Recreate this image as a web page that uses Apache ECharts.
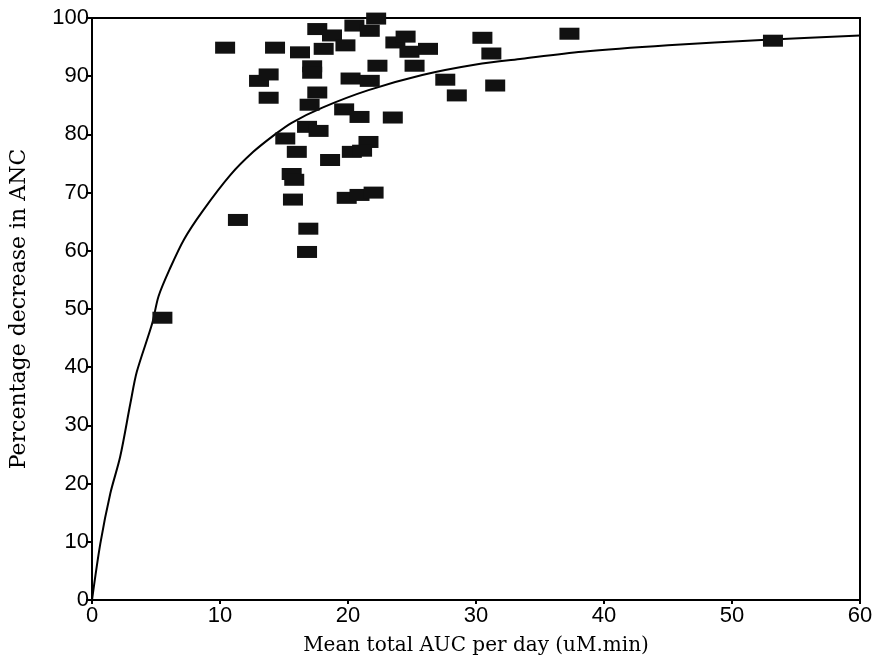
<!DOCTYPE html>
<html>
<head>
<meta charset="utf-8">
<script src="https://cdn.jsdelivr.net/npm/echarts@6/dist/echarts.min.js"></script>
<style>
html,body{margin:0;padding:0;background:#fff;}
#chart{width:877px;height:665px;}
</style>
</head>
<body>
<div id="chart"></div>
<script>
// Observed points: mean total AUC per day (uM.min) and percentage decrease in ANC
const auc = [5.5, 11.4, 10.4, 14.3, 16.25, 17.6, 18.1, 18.75, 19.8, 20.5, 21.7, 22.2,
  23.7, 24.5, 24.8, 25.2, 26.25, 17.2, 17.2, 22.3, 13.05, 13.8, 13.8, 20.2, 21.7,
  17.6, 17.0, 19.7, 20.9, 23.5, 16.8, 17.7, 15.1, 21.6, 20.3, 21.1, 16.0, 18.6,
  15.6, 15.8, 15.7, 19.9, 20.9, 22.0, 16.9, 16.8, 30.5, 31.2, 27.6, 31.5, 28.5,
  37.3, 53.2];
const ancDecrease = [48.5, 65.3, 94.9, 94.9, 94.1, 98.1, 94.7, 97.0, 95.3, 98.7, 97.8, 99.9,
  95.8, 96.8, 94.2, 91.8, 94.7, 91.7, 90.6, 91.8, 89.2, 90.3, 86.3, 89.6, 89.2,
  87.2, 85.1, 84.3, 83.0, 82.9, 81.3, 80.6, 79.3, 78.7, 77.0, 77.2, 77.0, 75.6,
  73.2, 72.2, 68.8, 69.1, 69.6, 70.0, 63.8, 59.8, 96.6, 93.9, 89.4, 88.4, 86.7,
  97.3, 96.1];
// Fitted curve
const curveX = [0, 0.65, 1.43, 2.2, 3.0, 3.5, 4.7, 5.2, 6.1, 7.2, 8.6, 10.8, 12.6, 14.3,
  15.6, 18, 21.6, 25.8, 30, 33.6, 38.3, 45, 52.3, 60];
const curveY = [0, 9.7, 18.3, 24.6, 33.8, 39.2, 47.5, 52.2, 57.0, 62.0, 66.7, 73.0, 77.0, 80.0,
  82.0, 84.6, 87.6, 90.2, 92.0, 93.0, 94.2, 95.3, 96.2, 97.0];
const xTicks = [0, 10, 20, 30, 40, 50, 60];
const yTicks = [0, 10, 20, 30, 40, 50, 60, 70, 80, 90, 100];

const chart = echarts.init(document.getElementById('chart'), null, {renderer: 'canvas'});
const labelFont = {fontFamily: 'Liberation Sans', fontSize: 22, color: '#000'};
chart.setOption({
  animation: false,
  backgroundColor: '#fff',
  grid: {left: 90, right: 17, top: 18, bottom: 65, show: true, borderColor: '#000', borderWidth: 2},
  xAxis: {
    type: 'value', min: xTicks[0], max: xTicks[xTicks.length - 1], interval: 10,
    name: 'Mean total AUC per day (uM.min)', nameLocation: 'middle', nameGap: 36,
    nameTextStyle: {fontFamily: 'DejaVu Serif', fontSize: 20, color: '#000'},
    axisLine: {lineStyle: {color: '#000', width: 2}},
    axisTick: {show: true, length: 4, lineStyle: {color: '#000', width: 2}},
    axisLabel: Object.assign({margin: 5}, labelFont),
    splitLine: {show: false}
  },
  yAxis: {
    type: 'value', min: yTicks[0], max: yTicks[yTicks.length - 1], interval: 10,
    name: 'Percentage decrease in ANC', nameLocation: 'middle', nameGap: 62,
    nameTextStyle: {fontFamily: 'DejaVu Serif', fontSize: 22, color: '#000'},
    axisLine: {lineStyle: {color: '#000', width: 2}},
    axisTick: {show: true, length: 6, lineStyle: {color: '#000', width: 2}},
    axisLabel: Object.assign({margin: 3}, labelFont),
    splitLine: {show: false}
  },
  series: [
    {
      type: 'line', data: curveX.map((x, i) => [x, curveY[i]]),
      showSymbol: false, smooth: 0.3, lineStyle: {color: '#000', width: 2}, z: 2
    },
    {
      type: 'scatter', data: auc.map((x, i) => [x, ancDecrease[i]]),
      symbol: 'rect', symbolSize: [20, 12],
      itemStyle: {color: '#111', opacity: 1}, z: 3
    }
  ]
});
</script>
</body>
</html>
